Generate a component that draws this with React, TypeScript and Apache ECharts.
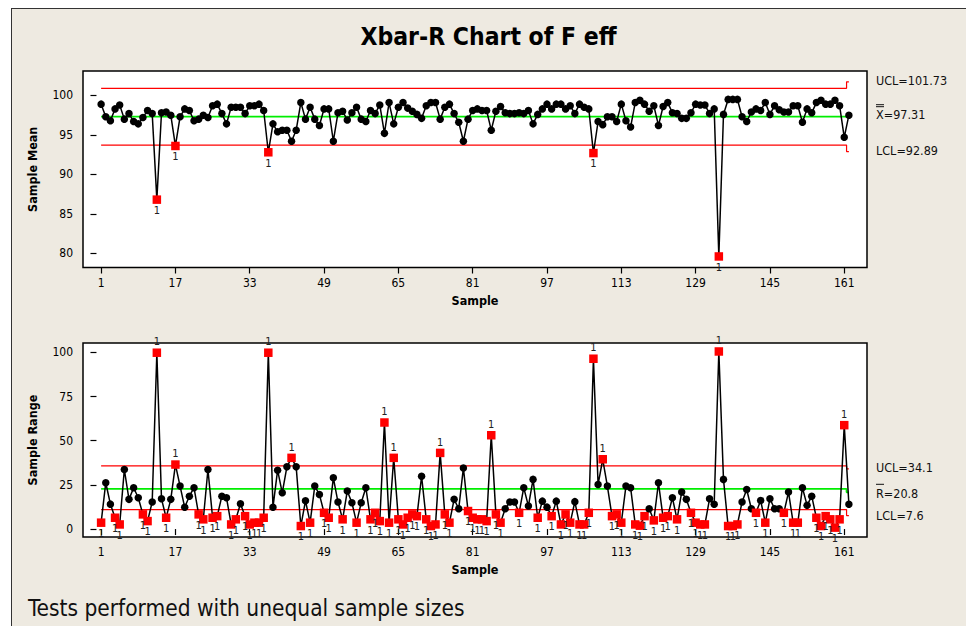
import React, { useEffect, useRef } from "react";
import * as echarts from "echarts";

const FONT = "'DejaVu Sans Condensed', 'DejaVu Sans', sans-serif";

const chartTitle = "Xbar-R Chart of F eff";
const footerText = "Tests performed with unequal sample sizes";

const sampleTicks = [1, 17, 33, 49, 65, 81, 97, 113, 129, 145, 161];
const meanTicks = [80, 85, 90, 95, 100];
const rangeTicks = [0, 25, 50, 75, 100];

const sampleMeans = [
  98.9, 97.3, 96.8, 98.3, 98.8, 97.0, 97.7, 96.7, 96.4, 97.2,
  98.1, 97.7, 86.8, 97.8, 97.9, 97.5, 93.6, 97.3, 98.3, 98.1,
  96.8, 97.0, 97.5, 97.2, 98.7, 98.9, 97.7, 96.4, 98.5, 98.5,
  98.5, 97.7, 98.7, 98.7, 98.9, 98.1, 92.8, 96.4, 95.4, 95.6,
  95.6, 94.2, 95.6, 99.1, 97.0, 98.5, 97.0, 96.2, 98.3, 98.3,
  94.2, 97.8, 98.0, 96.9, 97.8, 98.5, 97.0, 96.7, 98.1, 97.7,
  98.8, 95.2, 99.1, 96.4, 98.5, 99.1, 98.4, 98.0, 97.6, 97.1,
  98.7, 99.1, 99.1, 97.0, 98.5, 98.9, 97.7, 96.6, 94.2, 97.0,
  98.1, 98.3, 98.1, 98.1, 95.6, 98.0, 98.6, 97.8, 97.7, 97.7,
  97.8, 97.7, 98.1, 96.4, 97.6, 98.3, 98.9, 98.3, 98.9, 98.9,
  98.3, 98.7, 97.7, 98.9, 98.5, 98.3, 92.7, 96.7, 96.3, 97.3,
  97.3, 96.7, 98.9, 96.8, 96.0, 99.1, 99.4, 98.9, 98.0, 98.7,
  96.2, 98.6, 99.1, 97.8, 97.7, 97.1, 97.1, 97.8, 98.9, 98.8,
  98.8, 97.7, 98.3, 79.6, 97.6, 99.5, 99.5, 99.5, 97.3, 96.7,
  97.9, 98.3, 98.1, 99.1, 97.6, 98.7, 98.2, 97.9, 97.9, 98.7,
  98.7, 96.6, 98.3, 97.8, 99.1, 99.4, 98.9, 98.9, 99.4, 98.7,
  94.7, 97.5,
];

const sampleRanges = [
  3.6, 26.2, 14.1, 6.4, 2.6, 33.7, 16.8, 23.4, 17.7, 8.3,
  4.5, 15.3, 99.8, 17.1, 6.4, 16.8, 36.5, 24.3, 12.3, 18.6,
  23.4, 8.3, 5.5, 33.7, 6.4, 7.3, 18.6, 17.7, 2.6, 5.5,
  14.3, 7.3, 2.6, 3.6, 3.6, 6.4, 99.8, 12.3, 33.3, 20.5,
  35.2, 40.3, 35.2, 1.7, 16.0, 3.6, 24.3, 19.6, 9.2, 6.4,
  29.0, 15.3, 5.5, 21.5, 14.9, 3.6, 14.9, 23.4, 5.5, 9.2,
  4.5, 60.3, 3.6, 40.3, 5.5, 2.6, 6.4, 8.3, 7.3, 29.9,
  5.5, 1.7, 2.6, 43.1, 8.3, 3.6, 16.8, 11.5, 34.6, 10.2,
  6.4, 5.5, 5.5, 4.5, 53.1, 8.3, 3.6, 11.5, 15.3, 15.3,
  9.2, 23.4, 13.0, 28.1, 6.4, 15.8, 12.4, 7.3, 15.8, 2.6,
  8.3, 3.6, 15.5, 2.6, 2.6, 9.2, 96.4, 25.2, 39.5, 24.3,
  7.3, 8.3, 3.6, 24.3, 23.4, 2.6, 1.9, 7.3, 11.5, 4.9,
  26.2, 6.4, 7.3, 17.7, 5.5, 20.9, 16.8, 9.2, 3.6, 2.6,
  2.6, 17.1, 14.0, 100.5, 28.1, 1.7, 1.7, 2.6, 15.3, 22.4,
  11.5, 9.2, 16.2, 3.6, 17.1, 11.5, 11.5, 9.2, 20.9, 3.6,
  3.6, 23.4, 13.4, 18.6, 6.4, 1.7, 7.3, 5.5, 0.8, 5.5,
  58.8, 14.0,
];

// control limits: [value for most subgroups, value for the last (smaller) subgroup]
const meanUCL = [100.91, 101.73];
const meanCL = [97.31, 97.31];
const meanLCL = [93.71, 92.89];
const rangeUCL = [35.7, 34.1];
const rangeCL = [22.7, 20.8];
const rangeLCL = [11.0, 7.6];

const meanLabels = ["UCL=101.73", "=97.31", "LCL=92.89"];
const rangeLabels = ["UCL=34.1", "=20.8", "LCL=7.6"];

export default function App() {
  const ref = useRef<HTMLDivElement>(null);

  useEffect(() => {
    const chart = echarts.init(ref.current!, null, { renderer: "svg" });
    const N = sampleMeans.length;

    const limitSeries = (pair: number[], color: string, width: number, axis: number) => ({
      type: "line",
      xAxisIndex: axis,
      yAxisIndex: axis,
      silent: true,
      symbol: "none",
      z: 1,
      lineStyle: { color, width },
      data: [
        [1, pair[0]],
        [N - 0.5, pair[0]],
        [N - 0.5, pair[1]],
        [N, pair[1]],
      ],
    });

    const pointSeries = (vals: number[], ucl: number[], lcl: number[], axis: number) => ({
      type: "line",
      xAxisIndex: axis,
      yAxisIndex: axis,
      z: 3,
      symbol: "circle",
      symbolSize: 7.5,
      itemStyle: { color: "#000" },
      lineStyle: { color: "#000", width: 1.5 },
      data: vals.map((v, i) => {
        const last = i === vals.length - 1;
        const u = last ? ucl[1] : ucl[0];
        const l = last ? lcl[1] : lcl[0];
        if (v <= u && v >= l) return [i + 1, v];
        return {
          value: [i + 1, v],
          symbol: "rect",
          symbolSize: 8.5,
          itemStyle: { color: "#ff0000" },
          label: {
            show: true,
            formatter: "1",
            position: v > u ? "top" : "bottom",
            distance: 1,
            fontSize: 11,
            fontFamily: FONT,
            color: "#222",
          },
        };
      }),
    });

    const xAxis = (gridIndex: number) => ({
      type: "value",
      gridIndex,
      min: -2.9,
      max: 165.9,
      axisLine: { show: false },
      splitLine: { show: false },
      axisTick: { show: true, customValues: sampleTicks, length: 6, lineStyle: { color: "#000", width: 1.2 } },
      axisLabel: { customValues: sampleTicks, margin: 9, fontSize: 12, color: "#000", fontFamily: FONT },
      name: "Sample",
      nameLocation: "middle",
      nameGap: 26,
      nameTextStyle: { fontWeight: "bold", fontSize: 12.5, fontFamily: FONT, color: "#000" },
    });

    const yAxis = (gridIndex: number, min: number, max: number, ticks: number[], name: string) => ({
      type: "value",
      gridIndex,
      min,
      max,
      axisLine: { show: false },
      splitLine: { show: false },
      axisTick: { show: true, customValues: ticks, length: 6, lineStyle: { color: "#000", width: 1.2 } },
      axisLabel: { customValues: ticks, margin: 10, fontSize: 12, color: "#000", fontFamily: FONT },
      name,
      nameLocation: "middle",
      nameGap: 44,
      nameTextStyle: { fontWeight: "bold", fontSize: 12.5, fontFamily: FONT, color: "#000" },
    });

    const gridStyle = { show: true, backgroundColor: "#fff", borderColor: "#000", borderWidth: 1.5 };

    chart.setOption({
      animation: false,
      backgroundColor: "transparent",
      grid: [
        { left: 83, top: 71, width: 784, height: 196.5, ...gridStyle },
        { left: 83, top: 343, width: 784, height: 194, ...gridStyle },
      ],
      xAxis: [xAxis(0), xAxis(1)],
      yAxis: [
        yAxis(0, 78.2, 103.1, meanTicks, "Sample Mean"),
        yAxis(1, -4.5, 105.3, rangeTicks, "Sample Range"),
      ],
      series: [
        limitSeries(meanUCL, "#ff0000", 1.2, 0),
        limitSeries(meanCL, "#00ee00", 1.8, 0),
        limitSeries(meanLCL, "#ff0000", 1.2, 0),
        pointSeries(sampleMeans, meanUCL, meanLCL, 0),
        limitSeries(rangeUCL, "#ff0000", 1.2, 1),
        limitSeries(rangeCL, "#00ee00", 1.8, 1),
        limitSeries(rangeLCL, "#ff0000", 1.2, 1),
        pointSeries(sampleRanges, rangeUCL, rangeLCL, 1),
      ],
    });

    const py = (axis: number, v: number) =>
      chart.convertToPixel({ yAxisIndex: axis } as any, v) as unknown as number;

    const textX = 876;
    const txt = (x: number, y: number, text: string) => ({
      type: "text",
      x,
      y,
      style: { text, fill: "#111", font: `12.5px ${FONT}`, verticalAlign: "middle", align: "left" },
    });
    const bar = (y: number) => ({
      type: "line",
      shape: { x1: textX, y1: y, x2: textX + 8, y2: y },
      style: { stroke: "#111", lineWidth: 1 },
    });

    const yMU = py(0, meanUCL[1]);
    const yMC = py(0, meanCL[1]);
    const yML = py(0, meanLCL[1]);
    const yRU = py(1, rangeUCL[1]);
    const yRC = py(1, rangeCL[1]);
    const yRL = py(1, rangeLCL[1]);

    chart.setOption({
      graphic: [
        {
          type: "text",
          x: 488.5,
          y: 36,
          style: {
            text: chartTitle,
            fill: "#000",
            font: `bold 24.5px ${FONT}`,
            align: "center",
            verticalAlign: "middle",
          },
        },
        {
          type: "text",
          x: 28,
          y: 608,
          style: { text: footerText, fill: "#111", font: `22.5px ${FONT}`, align: "left", verticalAlign: "middle" },
        },
        txt(textX, yMU - 1, meanLabels[0]),
        txt(textX, yMC - 2, "X" + meanLabels[1]),
        bar(yMC - 10),
        bar(yMC - 12),
        txt(textX, yML - 1, meanLabels[2]),
        txt(textX, yRU - 1, rangeLabels[0]),
        txt(textX, yRC + 1, "R" + rangeLabels[1]),
        bar(yRC - 8),
        txt(textX, yRL, rangeLabels[2]),
      ],
    });

    return () => chart.dispose();
  }, []);

  return (
    <div style={{ position: "fixed", left: 0, top: 0, width: 966, height: 626, background: "#fff", overflow: "hidden" }}>
      <div
        style={{
          position: "absolute",
          left: 11,
          top: 8,
          width: 980,
          height: 640,
          background: "#EEEAE1",
          border: "1.5px solid #333",
          boxSizing: "border-box",
        }}
      />
      <div ref={ref} style={{ position: "absolute", left: 0, top: 0, width: 966, height: 626 }} />
    </div>
  );
}
